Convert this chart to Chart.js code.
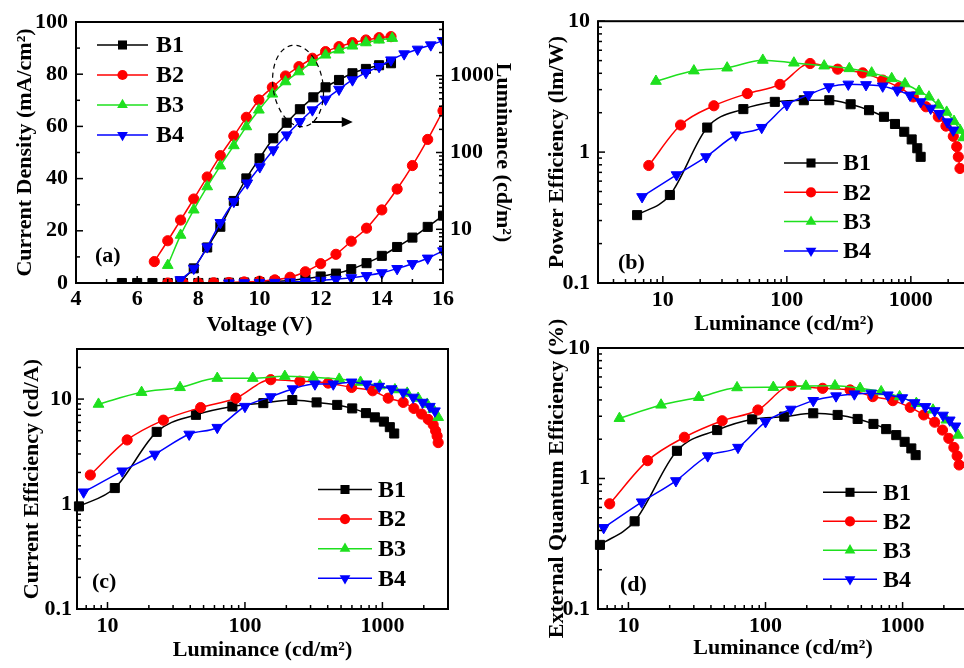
<!DOCTYPE html>
<html lang="en">
<head>
<meta charset="UTF-8">
<title>B1-B4 device performance</title>
<style>
    html, body {
        margin: 0;
        padding: 0;
        width: 964px;
        height: 668px;
        overflow: hidden;
        background: #fff;
    }
    canvas {
        position: absolute;
    }
    #chartA { left: 0; top: 0; }
    #chartB { left: 530px; top: 0; }
    #chartC { left: 0; top: 315px; }
    #chartD { left: 530px; top: 300px; }
</style>
</head>
<body>
<canvas id="chartA" width="530" height="342"></canvas>
<canvas id="chartB" width="450" height="342"></canvas>
<canvas id="chartC" width="530" height="353"></canvas>
<canvas id="chartD" width="450" height="368"></canvas>

<script src="https://cdn.jsdelivr.net/npm/chart.js"></script>
<script>
// ---------- (a) current density / luminance vs voltage ----------
const vB1J = [5.5, 6, 6.5, 7, 7.5, 8, 8.5, 9, 9.5, 10, 10.5, 11, 11.5, 12, 12.5, 13, 13.5, 14, 14.5, 15, 15.5, 16];
const jB1 = [0, 0, 0, 0, 0, 0, 0.05, 0.1, 0.2, 0.35, 0.6, 1.0, 1.6, 2.5, 3.6, 5.3, 7.6, 10.4, 13.8, 17.4, 21.5, 25.8];
const vB2J = [7, 7.5, 8, 8.5, 9, 9.5, 10, 10.5, 11, 11.5, 12, 12.5, 13, 13.5, 14, 14.5, 15, 15.5, 16];
const jB2 = [0, 0, 0, 0.1, 0.2, 0.4, 0.7, 1.2, 2.2, 4.3, 7.4, 11, 16, 21, 28, 36, 45, 55, 66];
const vB4J = [9, 9.5, 10, 10.5, 11, 11.5, 12, 12.5, 13, 13.5, 14, 14.5, 15, 15.5, 16];
const jB4 = [0, 0.05, 0.1, 0.2, 0.4, 0.6, 1.0, 1.4, 2.0, 2.8, 3.9, 5.5, 7.4, 9.5, 12.3];

const vB1L = [7.41, 7.85, 8.29, 8.72, 9.16, 9.57, 10.0, 10.45, 10.89, 11.32, 11.76, 12.16, 12.6, 13.04, 13.48, 13.91, 14.3];
const lumB1 = [2.1, 3.1, 5.8, 10.8, 23.4, 46, 84, 153, 244, 366, 523, 706, 880, 1076, 1225, 1368, 1452];
const vB2L = [6.56, 7.0, 7.42, 7.85, 8.29, 8.72, 9.16, 9.57, 9.98, 10.42, 10.85, 11.29, 11.73, 12.16, 12.6, 13.04, 13.48, 13.91, 14.3];
const lumB2 = [3.8, 7.1, 13.2, 24.8, 48, 91, 164, 287, 483, 706, 991, 1310, 1686, 2056, 2388, 2690, 2917, 3126, 3220];
const vB3L = [7.0, 7.42, 7.85, 8.29, 8.72, 9.16, 9.57, 9.98, 10.42, 10.85, 11.29, 11.73, 12.16, 12.6, 13.04, 13.48, 13.91, 14.34];
const lumB3 = [3.4, 8.4, 17.9, 35.9, 67, 123, 217, 358, 578, 836, 1127, 1495, 1862, 2163, 2438, 2690, 2917, 3070];
const vB4L = [7.41, 7.85, 8.29, 8.72, 9.16, 9.6, 10.01, 10.45, 10.89, 11.32, 11.73, 12.16, 12.6, 13.04, 13.48, 13.91, 14.3, 14.73, 15.17, 15.6, 15.99];
const lumB4 = [2.2, 3.1, 5.9, 12.2, 23, 40, 65, 108, 169, 252, 358, 493, 665, 880, 1097, 1313, 1600, 1920, 2208, 2512, 2860];

// ---------- (b) power efficiency vs luminance ----------
const lB1b = [6.2, 11.4, 22.8, 44.6, 80, 137, 220, 327, 460, 607, 745, 885, 1016, 1127, 1200];
const peB1 = [0.33, 0.47, 1.54, 2.13, 2.42, 2.49, 2.49, 2.32, 2.09, 1.86, 1.64, 1.43, 1.25, 1.07, 0.92];
const lB2b = [7.7, 13.9, 25.8, 48, 88, 154, 257, 409, 593, 807, 1047, 1325, 1665, 1920, 2200, 2344, 2415, 2490];
const peB2 = [0.79, 1.61, 2.26, 2.8, 3.29, 4.75, 4.3, 4.03, 3.55, 3.12, 2.64, 2.22, 1.86, 1.58, 1.32, 1.1, 0.92, 0.75];
const lB3b = [8.8, 17.8, 33, 64, 114, 200, 319, 483, 701, 897, 1164, 1400, 1665, 1945, 2230, 2490, 2650];
const peB3 = [3.48, 4.18, 4.4, 5.04, 4.8, 4.56, 4.35, 4.03, 3.65, 3.33, 2.92, 2.64, 2.29, 2.02, 1.72, 1.47, 1.29];
const lB4b = [6.8, 12.9, 22.3, 38.7, 62.7, 100, 150, 218, 313, 435, 593, 778, 985, 1200, 1445, 1694, 1968, 2200];
const peB4 = [0.456, 0.67, 0.92, 1.35, 1.54, 2.3, 2.74, 3.15, 3.3, 3.27, 3.19, 2.97, 2.72, 2.42, 2.16, 1.97, 1.70, 1.47];

// ---------- (c) current efficiency vs luminance ----------
const lB1c = [6.2, 11.3, 22.8, 44, 81, 136, 221, 332, 469, 603, 759, 881, 1025, 1132, 1219];
const ceB1 = [0.95, 1.42, 4.87, 7.08, 8.5, 9.15, 9.8, 9.3, 8.8, 8.15, 7.35, 6.7, 6.1, 5.4, 4.7];
const lB2c = [7.5, 13.9, 25.5, 47.6, 86, 154, 251, 403, 597, 849, 1102, 1416, 1694, 1928, 2153, 2340, 2438, 2500, 2545];
const ceB2 = [1.89, 4.08, 6.3, 8.3, 10.2, 15.3, 14.8, 14.2, 12.9, 12.0, 10.2, 9.3, 8.15, 7.2, 6.4, 5.7, 4.98, 4.45, 3.85];
const lB3c = [8.6, 17.7, 33.7, 62.9, 114, 195, 314, 485, 693, 959, 1233, 1514, 1820, 2118, 2340, 2545];
const ceB3 = [8.95, 11.6, 12.9, 15.8, 15.8, 16.5, 16.1, 15.5, 14.5, 13.4, 12.3, 11.4, 10.2, 8.95, 8.0, 6.7];
const lB4c = [6.7, 12.8, 22.1, 39.3, 62.9, 100, 154, 222, 323, 439, 597, 767, 948, 1167, 1416, 1675, 1959, 2213, 2410];
const ceB4 = [1.3, 2.06, 2.98, 4.62, 5.36, 8.5, 10.5, 12.5, 13.9, 13.9, 14.5, 13.9, 13.2, 12.5, 11.6, 10.4, 9.3, 8.5, 7.7];

// ---------- (d) external quantum efficiency vs luminance ----------
const lB1d = [6.2, 11.1, 22.6, 44.4, 80, 137, 223, 336, 470, 613, 759, 899, 1035, 1158, 1245];
const eqeB1 = [0.31, 0.47, 1.63, 2.35, 2.84, 2.98, 3.16, 3.07, 2.86, 2.62, 2.39, 2.15, 1.91, 1.7, 1.51];
const lB2d = [7.3, 13.8, 25.6, 48.3, 88, 154, 261, 414, 606, 849, 1138, 1426, 1714, 1954, 2173, 2366, 2500, 2584];
const eqeB2 = [0.64, 1.37, 2.07, 2.77, 3.35, 5.14, 4.91, 4.77, 4.24, 3.95, 3.51, 3.07, 2.7, 2.35, 2.03, 1.73, 1.49, 1.27];
const lB3d = [8.6, 17.3, 32.6, 62, 114, 197, 321, 490, 698, 951, 1260, 1667, 2089, 2540];
const eqeB3 = [2.89, 3.66, 4.19, 4.97, 5.0, 5.11, 5.14, 4.91, 4.63, 4.24, 3.77, 3.35, 2.81, 2.15];
const lB4d = [6.6, 12.5, 22.2, 37.9, 63, 100, 153, 223, 327, 445, 590, 780, 995, 1225, 1466, 1714, 1972, 2208, 2430];
const eqeB4 = [0.42, 0.66, 0.96, 1.49, 1.73, 2.72, 3.39, 3.95, 4.29, 4.44, 4.5, 4.36, 4.15, 3.8, 3.55, 3.3, 3.05, 2.8, 2.52];

const devices = ['B1', 'B2', 'B3', 'B4'];

// marker / colour per device
const STYLE = {
    B1: { color: '#000000', style: 'rect', r: 6.4, rot: 0, order: 4 },
    B2: { color: '#ff0000', style: 'circle', r: 5.1, rot: 0, order: 3 },
    B3: { color: '#1ee01e', style: 'triangle', r: 6.2, rot: 0, order: 2 },
    B4: { color: '#0000ff', style: 'triangle', r: 6.2, rot: 180, order: 1 }
};

const FONT = 'Liberation Serif';
Chart.defaults.font.family = FONT;
Chart.defaults.font.weight = 'bold';
Chart.defaults.font.size = 22;
Chart.defaults.color = '#000';

function pts(xs, ys) {
    return xs.map((x, i) => ({ x: x, y: ys[i] }));
}

function series(name, xs, ys, yAxisID, clip) {
    const s = STYLE[name];
    return {
        label: name,
        data: pts(xs, ys),
        yAxisID: yAxisID || 'y',
        borderColor: s.color,
        backgroundColor: s.color,
        pointBackgroundColor: s.color,
        pointBorderColor: s.color,
        borderWidth: 1.5,
        pointStyle: s.style,
        pointRadius: s.r,
        pointRotation: s.rot,
        pointBorderWidth: 1,
        cubicInterpolationMode: 'monotone',
        order: s.order,
        clip: clip
    };
}

function logTicks(min, max) {
    const out = [];
    for (let e = Math.floor(Math.log10(min)); e <= Math.ceil(Math.log10(max)); e++) {
        for (let m = 1; m < 10; m++) {
            const v = +(m * Math.pow(10, e)).toPrecision(3);
            if (v >= min - 1e-9 && v <= max + 1e-9) out.push({ value: v, major: m === 1 });
        }
    }
    return out;
}

function linTicks(min, max, step, majorStep) {
    const out = [];
    for (let v = min; v <= max + 1e-9; v += step) {
        out.push({ value: v, major: Math.abs(v / majorStep - Math.round(v / majorStep)) < 1e-6 });
    }
    return out;
}

function axis(opt) {
    const horiz = opt.position === 'bottom';
    return {
        type: opt.type,
        position: opt.position,
        min: opt.min,
        max: opt.max,
        grid: { display: false, drawTicks: false },
        border: { display: false },
        afterBuildTicks: ax => { ax.ticks = opt.tickList; },
        afterFit: ax => {
            if (horiz) ax.height = opt.size; else ax.width = opt.size;
        },
        ticks: {
            autoSkip: false,
            maxRotation: 0,
            minRotation: 0,
            padding: opt.tickPad,
            font: { size: 22, weight: 'bold' },
            callback: (v, i, t) => t[i].major ? String(v) : ''
        },
        title: {
            display: true,
            text: opt.title,
            font: { size: 22, weight: 'bold' },
            padding: horiz ? { top: 0, bottom: opt.titlePad } : { top: opt.titlePad, bottom: 0 }
        }
    };
}

function drawMarker(ctx, s, x, y) {
    ctx.fillStyle = s.color;
    ctx.beginPath();
    if (s.style === 'circle') {
        ctx.arc(x, y, s.r, 0, Math.PI * 2);
    } else if (s.style === 'rect') {
        const h = s.r * Math.SQRT1_2;
        ctx.rect(x - h, y - h, 2 * h, 2 * h);
    } else {
        let a = s.rot * Math.PI / 180;
        ctx.moveTo(x + Math.sin(a) * s.r, y - Math.cos(a) * s.r);
        a += 2 * Math.PI / 3;
        ctx.lineTo(x + Math.sin(a) * s.r, y - Math.cos(a) * s.r);
        a += 2 * Math.PI / 3;
        ctx.lineTo(x + Math.sin(a) * s.r, y - Math.cos(a) * s.r);
        ctx.closePath();
    }
    ctx.fill();
}

// frame, inward ticks, panel tag, legend and the (a) annotation
const deco = {
    id: 'deco',
    afterDatasetsDraw(chart, args, o) {
        const ctx = chart.ctx;
        const a = chart.chartArea;
        ctx.save();
        ctx.strokeStyle = '#000';
        ctx.lineWidth = 1.5;
        Object.values(chart.scales).forEach(s => {
            s.ticks.forEach(t => {
                const len = t.major ? 7 : 4;
                const p = s.getPixelForValue(t.value);
                ctx.beginPath();
                if (s.axis === 'x') {
                    ctx.moveTo(p, a.bottom); ctx.lineTo(p, a.bottom - len);
                } else if (s.position === 'left') {
                    ctx.moveTo(a.left, p); ctx.lineTo(a.left + len, p);
                } else {
                    ctx.moveTo(a.right, p); ctx.lineTo(a.right - len, p);
                }
                ctx.stroke();
            });
        });
        ctx.lineWidth = 2;
        ctx.strokeRect(a.left, a.top, a.right - a.left, a.bottom - a.top);

        ctx.fillStyle = '#000';
        ctx.font = 'bold 22px "' + FONT + '"';
        ctx.textBaseline = 'middle';
        ctx.textAlign = 'left';
        ctx.fillText(o.tag[0], o.tag[1], o.tag[2]);

        const lg = o.legend;
        devices.forEach((d, i) => {
            const s = STYLE[d];
            const y = lg.y0 + i * lg.dy;
            ctx.strokeStyle = s.color;
            ctx.lineWidth = 1.5;
            ctx.beginPath();
            ctx.moveTo(lg.x0, y);
            ctx.lineTo(lg.x1, y);
            ctx.stroke();
            drawMarker(ctx, s, (lg.x0 + lg.x1) / 2, y);
            ctx.fillStyle = '#000';
            ctx.font = 'bold 24px "' + FONT + '"';
            ctx.fillText(d, lg.tx, y + 1);
        });

        if (o.ellipse) {
            const e = o.ellipse;
            const cx = chart.scales.x.getPixelForValue(e.v);
            const cy = chart.scales.y.getPixelForValue(e.j);
            ctx.strokeStyle = '#000';
            ctx.lineWidth = 1.2;
            ctx.setLineDash([5, 4]);
            ctx.beginPath();
            ctx.ellipse(cx, cy, e.rx, e.ry, e.rot, 0, Math.PI * 2);
            ctx.stroke();
            ctx.setLineDash([]);
            const ar = o.arrow;
            const x0 = chart.scales.x.getPixelForValue(ar.v0);
            const x1 = chart.scales.x.getPixelForValue(ar.v1);
            const ay = chart.scales.y.getPixelForValue(ar.j);
            ctx.lineWidth = 2;
            ctx.beginPath();
            ctx.moveTo(x0, ay);
            ctx.lineTo(x1 - 8, ay);
            ctx.stroke();
            ctx.fillStyle = '#000';
            ctx.beginPath();
            ctx.moveTo(x1, ay);
            ctx.lineTo(x1 - 11, ay - 5);
            ctx.lineTo(x1 - 11, ay + 5);
            ctx.closePath();
            ctx.fill();
        }
        ctx.restore();
    }
};

function baseOptions(padding, scales, decoOpts) {
    return {
        responsive: false,
        animation: false,
        events: [],
        layout: { padding: padding },
        scales: scales,
        plugins: {
            legend: { display: false },
            tooltip: { enabled: false },
            deco: decoOpts
        }
    };
}

// ----- panel (a)
new Chart(document.getElementById('chartA'), {
    type: 'line',
    data: {
        datasets: [
            series('B1', vB1J, jB1, 'y'),
            series('B2', vB2J, jB2, 'y'),
            series('B4', vB4J, jB4, 'y'),
            series('B1', vB1L, lumB1, 'y2'),
            series('B2', vB2L, lumB2, 'y2'),
            series('B3', vB3L, lumB3, 'y2'),
            series('B4', vB4L, lumB4, 'y2')
        ]
    },
    options: baseOptions({ left: 0, right: 0, top: 22, bottom: 0 }, {
        x: axis({ type: 'linear', position: 'bottom', min: 4, max: 16, tickList: linTicks(4, 16, 1, 2),
                  size: 59, tickPad: 3, title: 'Voltage (V)', titlePad: 3 }),
        y: axis({ type: 'linear', position: 'left', min: 0, max: 100, tickList: linTicks(0, 100, 10, 20),
                  size: 76, tickPad: 8, title: 'Current Density (mA/cm²)', titlePad: 12 }),
        y2: axis({ type: 'logarithmic', position: 'right', min: 2, max: 5000, tickList: logTicks(2, 5000),
                   size: 87, tickPad: 7, title: 'Luminance (cd/m²)', titlePad: 14 })
    }, {
        tag: ['(a)', 95, 256],
        legend: { x0: 97, x1: 148, tx: 156, y0: 45, dy: 30 },
        ellipse: { v: 11.26, j: 75.5, rx: 25, ry: 41, rot: -0.15 },
        arrow: { v0: 11.72, v1: 13.05, j: 61.7 }
    }),
    plugins: [deco]
});

// ----- panel (b)
new Chart(document.getElementById('chartB'), {
    type: 'line',
    data: {
        datasets: [
            series('B1', lB1b, peB1, 'y', false),
            series('B2', lB2b, peB2, 'y', false),
            series('B3', lB3b, peB3, 'y', false),
            series('B4', lB4b, peB4, 'y', false)
        ]
    },
    options: baseOptions({ left: 0, right: 10, top: 21, bottom: 0 }, {
        x: axis({ type: 'logarithmic', position: 'bottom', min: 3, max: 3000, tickList: logTicks(3, 3000),
                  size: 59, tickPad: 4, title: 'Luminance (cd/m²)', titlePad: 4 }),
        y: axis({ type: 'logarithmic', position: 'left', min: 0.1, max: 10, tickList: logTicks(0.1, 10),
                  size: 68, tickPad: 8, title: 'Power Efficiency (lm/W)', titlePad: 14 })
    }, {
        tag: ['(b)', 88, 263],
        legend: { x0: 254, x1: 308, tx: 313, y0: 163, dy: 29.3 }
    }),
    plugins: [deco]
});

// ----- panel (c)
new Chart(document.getElementById('chartC'), {
    type: 'line',
    data: {
        datasets: [
            series('B1', lB1c, ceB1, 'y', false),
            series('B2', lB2c, ceB2, 'y', false),
            series('B3', lB3c, ceB3, 'y', false),
            series('B4', lB4c, ceB4, 'y', false)
        ]
    },
    options: baseOptions({ left: 0, right: 82, top: 34, bottom: 0 }, {
        x: axis({ type: 'logarithmic', position: 'bottom', min: 6, max: 3000, tickList: logTicks(6, 3000),
                  size: 59, tickPad: 4, title: 'Luminance (cd/m²)', titlePad: 4 }),
        y: axis({ type: 'logarithmic', position: 'left', min: 0.1, max: 30, tickList: logTicks(0.1, 30),
                  size: 77, tickPad: 5, title: 'Current Efficiency (cd/A)', titlePad: 19 })
    }, {
        tag: ['(c)', 92, 267],
        legend: { x0: 318, x1: 372, tx: 378, y0: 174.5, dy: 29.6 }
    }),
    plugins: [deco]
});

// ----- panel (d)
new Chart(document.getElementById('chartD'), {
    type: 'line',
    data: {
        datasets: [
            series('B1', lB1d, eqeB1, 'y', false),
            series('B2', lB2d, eqeB2, 'y', false),
            series('B3', lB3d, eqeB3, 'y', false),
            series('B4', lB4d, eqeB4, 'y', false)
        ]
    },
    options: baseOptions({ left: 0, right: 12, top: 48, bottom: 0 }, {
        x: axis({ type: 'logarithmic', position: 'bottom', min: 6, max: 3000, tickList: logTicks(6, 3000),
                  size: 59, tickPad: 4, title: 'Luminance (cd/m²)', titlePad: 6 }),
        y: axis({ type: 'logarithmic', position: 'left', min: 0.1, max: 10, tickList: logTicks(0.1, 10),
                  size: 68, tickPad: 8, title: 'External Quantum Efficiency (%)', titlePad: 14 })
    }, {
        tag: ['(d)', 90, 285],
        legend: { x0: 293, x1: 347, tx: 353, y0: 192.3, dy: 29 }
    }),
    plugins: [deco]
});
</script>
</body>
</html>
